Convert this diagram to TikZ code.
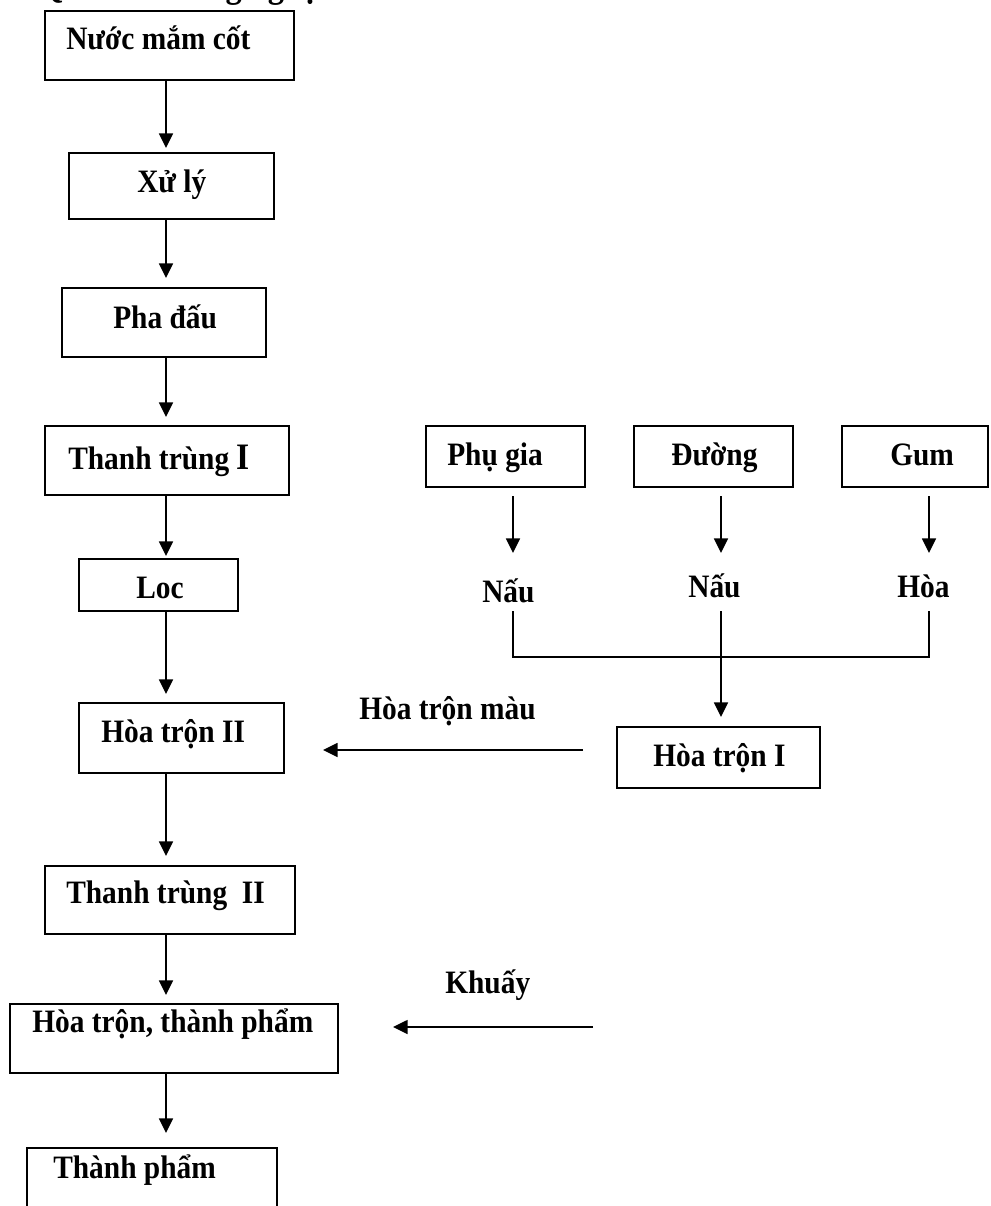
\documentclass[tikz,border=0pt]{standalone}
\usepackage{fontspec}
\setmainfont{Liberation Serif}[FakeStretch=0.9]
\usetikzlibrary{arrows.meta,fit}

\tikzset{
  box/.style={draw, line width=1.3pt, inner sep=0pt, outer sep=0pt},
  txt/.style={anchor=base west, inner sep=0pt, font=\fontsize{24.5pt}{27pt}\selectfont\bfseries},
  flow/.style={line width=1.2pt, -{Triangle[length=11pt,width=10.5pt]}},
  link/.style={line width=1.2pt},
}

\begin{document}
\begin{tikzpicture}[x=0.75pt,y=-0.75pt]
\useasboundingbox (0,0) rectangle (991,1206);

% heading (runs above the top edge)
\node[anchor=base west, inner sep=0pt, font=\fontsize{27pt}{30pt}\selectfont\bfseries] (head) at (38,-2) {Qui trình công nghệ:};

% main process column
\node[box, fit={(45,11) (294,80)}] (b1) {};
\node[box, fit={(69,153) (274,219)}] (b2) {};
\node[box, fit={(62,288) (266,357)}] (b3) {};
\node[box, fit={(45,426) (289,495)}] (b4) {};
\node[box, fit={(79,559) (238,611)}] (b5) {};
\node[box, fit={(79,703) (284,773)}] (b6) {};
\node[box, fit={(45,866) (295,934)}] (b7) {};
\node[box, fit={(10,1004) (338,1073)}] (b8) {};
\node[box, fit={(27,1148) (277,1222)}] (b9) {};

\node[txt] (t1) at (66,50) {Nước mắm cốt};
\node[txt] (t2) at (137,192) {Xử lý};
\node[txt] (t3) at (113,328) {Pha đấu};
\node[txt] (t4) at (68,469) {Thanh trùng {\fontsize{28pt}{30pt}\selectfont I}};
\node[txt] (t5) at (136,598) {Loc};
\node[txt] (t6) at (101,742) {Hòa trộn II};
\node[txt] (t7) at (66,903) {Thanh trùng \ II};
\node[txt] (t8) at (32,1032) {Hòa trộn, thành phẩm};
\node[txt] (t9) at (53,1178) {Thành phẩm};

\coordinate (colx) at (166,0);
\draw[flow, shorten >=3.75pt] (b1.south -| colx) -- (b2.north -| colx);
\draw[flow, shorten >=7.5pt]  (b2.south -| colx) -- (b3.north -| colx);
\draw[flow, shorten >=6.75pt] (b3.south -| colx) -- (b4.north -| colx);
\draw[flow, shorten >=2.25pt] (b4.south -| colx) -- (b5.north -| colx);
\draw[flow, shorten >=6.75pt] (b5.south -| colx) -- (b6.north -| colx);
\draw[flow, shorten >=7.5pt]  (b6.south -| colx) -- (b7.north -| colx);
\draw[flow, shorten >=6.75pt] (b7.south -| colx) -- (b8.north -| colx);
\draw[flow, shorten >=11.25pt] (b8.south -| colx) -- (b9.north -| colx);

% ingredient branch
\node[box, fit={(426,426) (585,487)}] (pg) {};
\node[box, fit={(634,426) (793,487)}] (du) {};
\node[box, fit={(842,426) (988,487)}] (gum) {};
\node[txt] (tpg) at (447,465) {Phụ gia};
\node[txt] (tdu) at (671,465) {Đường};
\node[txt] (tgum) at (890,465) {Gum};

\node[txt] (nau1) at (482,602) {Nấu};
\node[txt] (nau2) at (688,597) {Nấu};
\node[txt] (hoa) at (897,597) {Hòa};

\coordinate (in1) at (513,553);
\coordinate (in2) at (721,553);
\coordinate (in3) at (929,553);
\draw[flow, shorten <=6.75pt] (pg.south -| in1) -- (in1);
\draw[flow, shorten <=6.75pt] (du.south -| in2) -- (in2);
\draw[flow, shorten <=6.75pt] (gum.south -| in3) -- (in3);

\node[box, fit={(617,727) (820,788)}] (h1) {};
\node[txt] (th1) at (653,766) {Hòa trộn I};

\coordinate (out1) at (513,611);
\coordinate (out2) at (721,611);
\coordinate (out3) at (929,611);
\coordinate (bus) at (0,657);
\draw[link] (out1) -- (out1 |- bus) -- (out3 |- bus) -- (out3);
\draw[flow, shorten >=7.5pt] (out2) -- (h1.north -| out2);

% side feeds
\node[txt] (lmau) at (359,719) {Hòa trộn màu};
\coordinate (mauA) at (583,750);
\coordinate (mauB) at (323,750);
\draw[flow] (mauA) -- (mauB);

\node[txt] (lkhuay) at (445,993) {Khuấy};
\coordinate (khA) at (593,1027);
\coordinate (khB) at (393,1027);
\draw[flow] (khA) -- (khB);
\end{tikzpicture}
\end{document}
